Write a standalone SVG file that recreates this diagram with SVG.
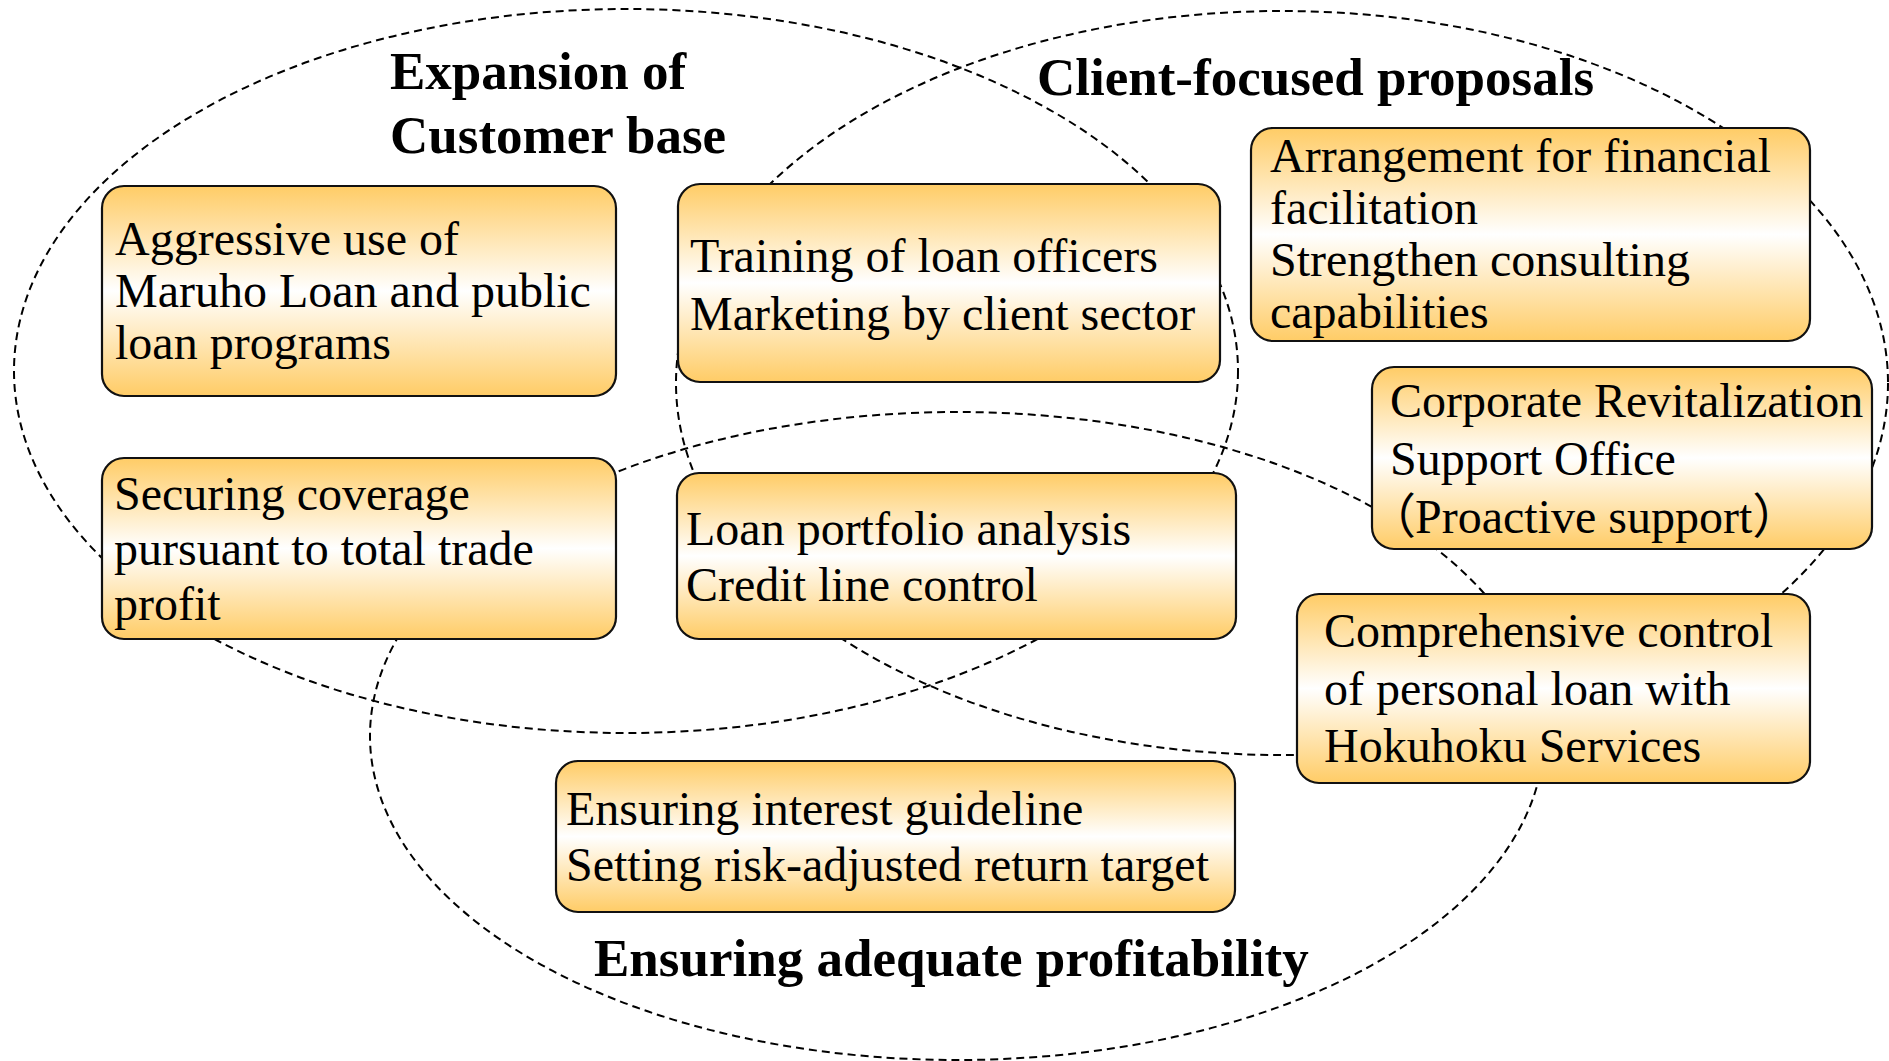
<svg xmlns="http://www.w3.org/2000/svg" width="1889" height="1061" viewBox="0 0 1889 1061">
  <style>
    .region { fill: none; stroke: #000; stroke-width: 2; stroke-dasharray: 8 5; }
    .box { fill: url(#boxFill); stroke: #111; stroke-width: 2.2; }
    .item { font-family: "Liberation Serif", "Times New Roman", "Noto Sans CJK JP", serif; font-size: 48px; fill: #000; }
    .title { font-family: "Liberation Serif", "Times New Roman", serif; font-size: 53px; font-weight: bold; fill: #000; }
  </style>
  <defs>
    <linearGradient id="boxFill" x1="0" y1="0" x2="0" y2="1">
      <stop offset="0" stop-color="#FFCC66"/>
      <stop offset="0.5" stop-color="#FFFFFF"/>
      <stop offset="1" stop-color="#FFCC66"/>
    </linearGradient>
  </defs>
  <rect width="1889" height="1061" fill="#fff"/>

  <!-- dashed outlines of the three policy areas -->
  <g id="regions">
    <ellipse class="region" cx="626" cy="371" rx="612" ry="362"/>
    <ellipse class="region" cx="1282" cy="383" rx="606" ry="372"/>
    <ellipse class="region" cx="957" cy="736" rx="587" ry="324"/>
  </g>

  <!-- area headings -->
  <g id="titles">
    <text class="title" x="390" y="89">Expansion of</text>
    <text class="title" x="390" y="153">Customer base</text>
    <text class="title" x="1037" y="95">Client-focused proposals</text>
    <text class="title" x="594" y="976">Ensuring adequate profitability</text>
  </g>

  <g id="aggressive-use">
    <rect class="box" x="102" y="186" width="514" height="210" rx="22"/>
    <text class="item" x="115" y="255">Aggressive use of</text>
    <text class="item" x="115" y="307">Maruho Loan and public</text>
    <text class="item" x="115" y="359">loan programs</text>
  </g>

  <g id="training">
    <rect class="box" x="678" y="184" width="542" height="198" rx="22"/>
    <text class="item" x="690" y="272">Training of loan officers</text>
    <text class="item" x="690" y="330">Marketing by client sector</text>
  </g>

  <g id="arrangement">
    <rect class="box" x="1251" y="128" width="559" height="213" rx="22"/>
    <text class="item" x="1270" y="172">Arrangement for financial</text>
    <text class="item" x="1270" y="224">facilitation</text>
    <text class="item" x="1270" y="276">Strengthen consulting</text>
    <text class="item" x="1270" y="328">capabilities</text>
  </g>

  <g id="revitalization">
    <rect class="box" x="1372" y="367" width="500" height="182" rx="22"/>
    <text class="item" x="1390" y="417">Corporate Revitalization</text>
    <text class="item" x="1390" y="475">Support Office</text>
    <text class="item" y="533"><tspan x="1368">（</tspan><tspan x="1415">Proactive support</tspan><tspan>）</tspan></text>
  </g>

  <g id="comprehensive">
    <rect class="box" x="1297" y="594" width="513" height="189" rx="22"/>
    <text class="item" x="1324" y="647">Comprehensive control</text>
    <text class="item" x="1324" y="705">of personal loan with</text>
    <text class="item" x="1324" y="762">Hokuhoku Services</text>
  </g>

  <g id="portfolio">
    <rect class="box" x="677" y="473" width="559" height="166" rx="22"/>
    <text class="item" x="686" y="545">Loan portfolio analysis</text>
    <text class="item" x="686" y="601">Credit line control</text>
  </g>

  <g id="coverage">
    <rect class="box" x="102" y="458" width="514" height="181" rx="22"/>
    <text class="item" x="114" y="510">Securing coverage</text>
    <text class="item" x="114" y="565">pursuant to total trade</text>
    <text class="item" x="114" y="620">profit</text>
  </g>

  <g id="interest">
    <rect class="box" x="556" y="761" width="679" height="151" rx="22"/>
    <text class="item" x="566" y="825">Ensuring interest guideline</text>
    <text class="item" x="566" y="881">Setting risk-adjusted return target</text>
  </g>
</svg>
